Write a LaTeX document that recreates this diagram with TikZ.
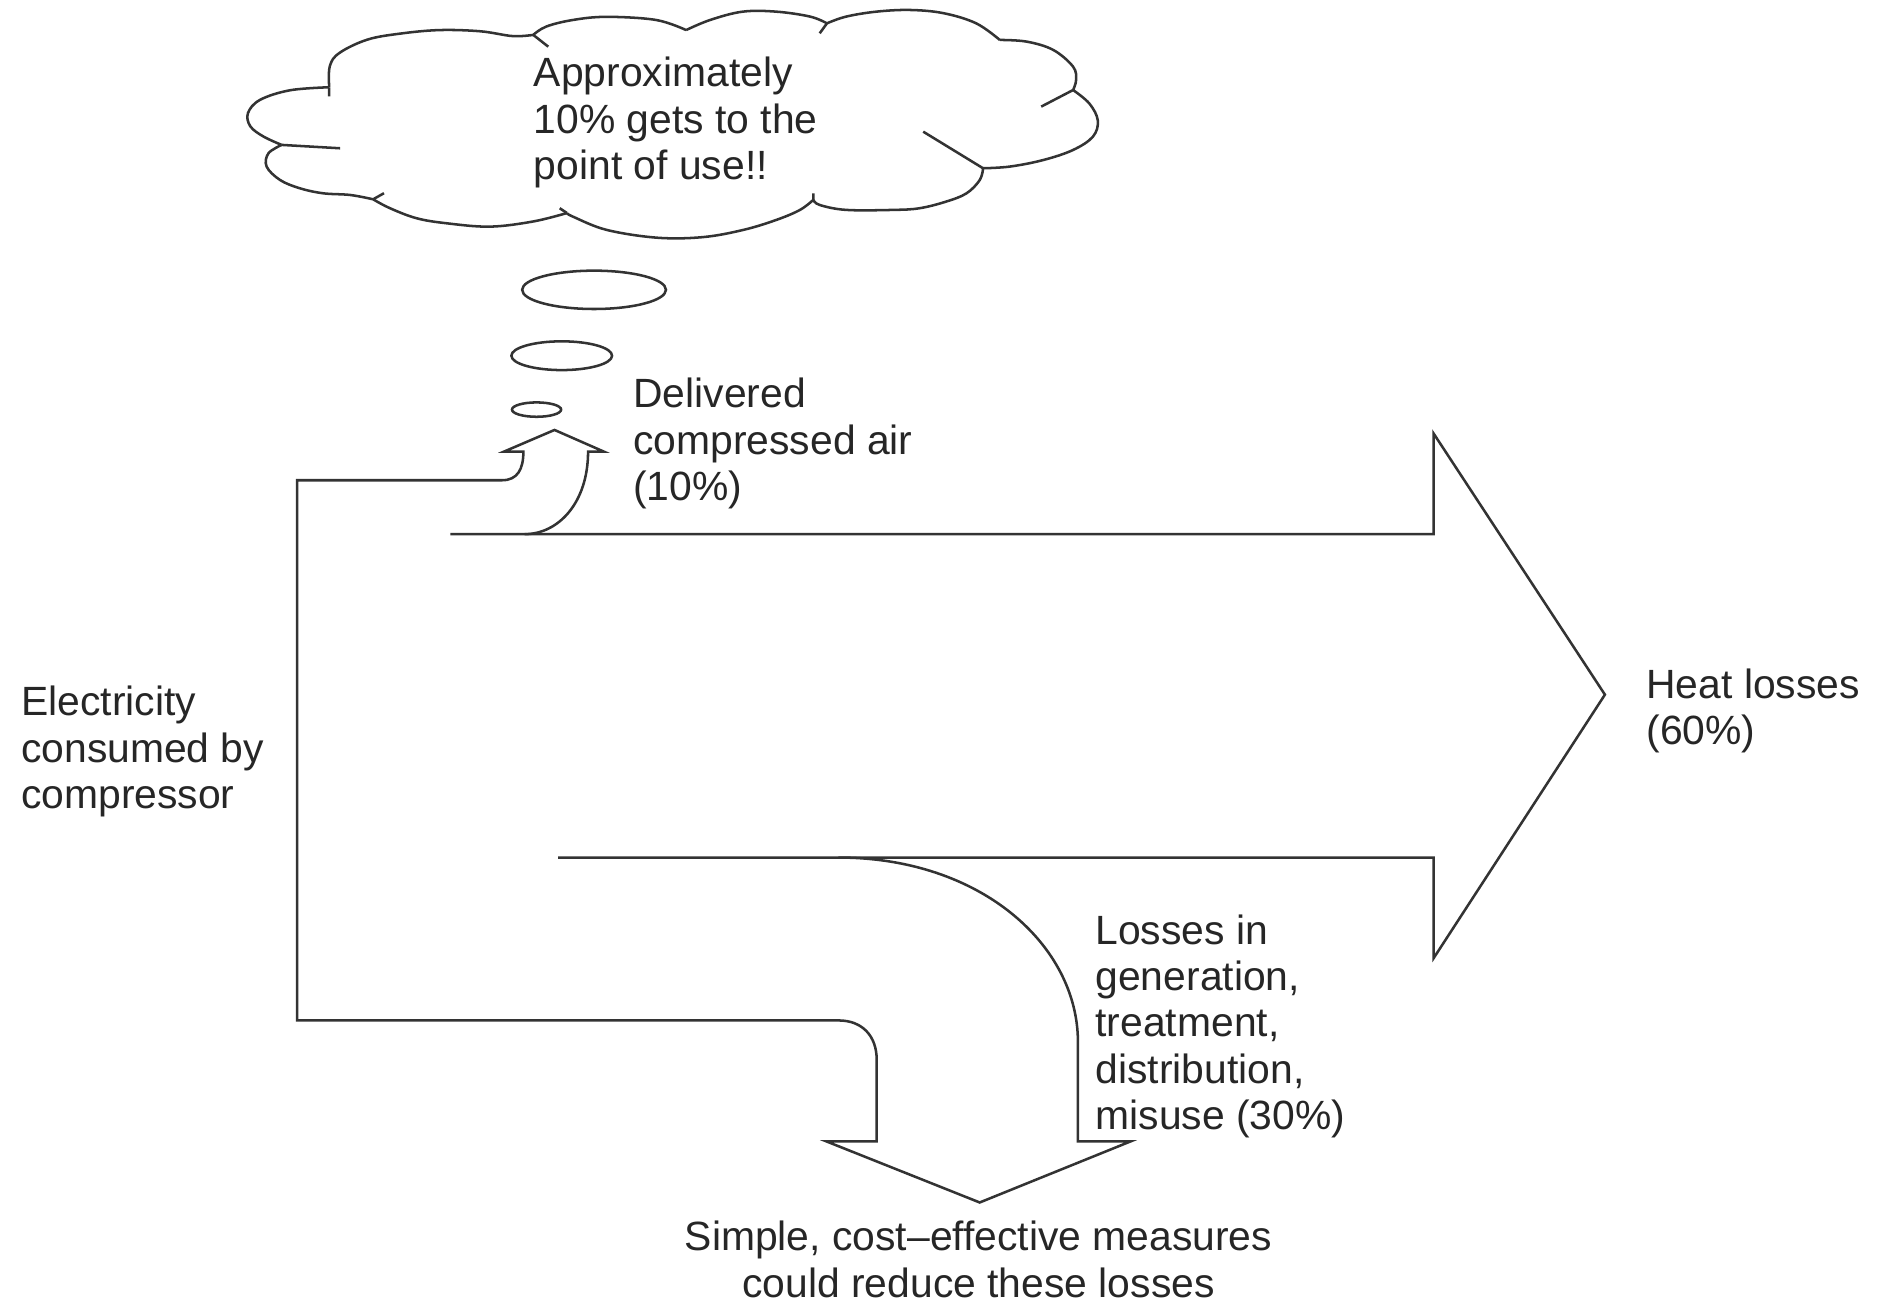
\documentclass[tikz,border=0pt]{standalone}
\usepackage{fontspec}
\setmainfont{Liberation Sans}
\usetikzlibrary{shapes.geometric}

\begin{document}
\begin{tikzpicture}[x=0.01cm, y=-0.01cm]
\tikzstyle{txt}=[align=left, inner sep=0pt, anchor=base west, text=black!85, font=\fontsize{9.7}{11}\selectfont]
\tikzstyle{flow}=[draw=black!80, line width=0.6pt, line join=miter]
\tikzstyle{bubble}=[draw=black!80, line width=0.6pt, ellipse, inner sep=0pt]
\tikzstyle{puff}=[draw=black!80, line width=0.6pt, smooth, tension=0.6]
\useasboundingbox (0,0) rectangle (1568,1086);

% thought cloud
\begin{scope}[scale=1.005]
\draw[puff] plot coordinates {(234,120.4) (219,113.5) (208,105) (206,94) (216,83) (241,75) (273.5,72.5)}
  plot coordinates {(273.5,72.5) (274,55) (282,44) (305,33) (332,28) (365,25) (399,26) (426,30) (443,29)}
  plot coordinates {(443,29) (454,22) (476,16.6) (504,14) (545,16.6) (570,25)}
  plot coordinates {(570,25) (590,16.6) (617,9.7) (645,9.7) (673,13.8) (687,19.4)}
  plot coordinates {(687,19.4) (703,13.8) (728,9.7) (756,8.3) (784,11) (811,19.4) (830.6,33.2)}
  plot coordinates {(830.6,33.2) (853,34.6) (875,41.5) (891.5,55.4) (894,66.4) (891.5,74.8)}
  plot coordinates {(891.5,74.8) (905,86) (912,100) (908,113.5) (891.5,124.6) (866.6,133) (839,138.4) (816.7,139.8)}
  plot coordinates {(816.7,139.8) (814,149.5) (803,160.6) (786,167.5) (764,173) (742,174.4) (703,174.4) (681,170.3) (675.7,166)}
  plot coordinates {(675.7,166) (664.6,174.4) (645,182.7) (617.6,191) (584,197) (546,197.5) (504,191) (476,180) (471,177)}
  plot coordinates {(471,177) (443,184) (407,188.3) (371,185.5) (346,181.3) (324,173) (310,165.6)}
  plot coordinates {(310,165.6) (291,162) (268.5,160.6) (249,156.4) (232.6,149.5) (221.5,138.4) (223,127.4) (234,120.4)};
% inner strokes of the cloud
\draw[flow] (273.5,72.5) -- (273.5,80)
  (234,120.4) -- (282.6,123.2)
  (443,29) -- (455.5,38.8)
  (687,19.4) -- (681,27.7)
  (891.5,74.8) -- (865,88.6)
  (816.7,139.8) -- (767,109.4)
  (675.7,166) -- (675.7,160.6)
  (471,177) -- (465,173)
  (310,165.6) -- (319,160.5);
\end{scope}
\node[txt] (think) at (445,150) {Approximately\\10\% gets to the\\point of use!!};

% bubbles
\node[bubble, minimum width=1.2cm, minimum height=0.32cm] (b1) at (496,242) {};
\node[bubble, minimum width=0.84cm, minimum height=0.24cm] (b2) at (469,297) {};
\node[bubble, minimum width=0.41cm, minimum height=0.12cm] (b3) at (448,342) {};

% main flow
\draw[flow] (376,446) -- (1197,446) -- (1197,362) -- (1340,580) -- (1197,800) -- (1197,716) -- (466,716);
\draw[flow] (438,446) .. controls (466,446) and (491,420) .. (491,377) -- (504,377) -- (463,359)
  -- (421,377) -- (437,377) .. controls (437,392) and (432,401) .. (419,401) -- (248,401)
  -- (248,852) -- (700,852) .. controls (720,852) and (732,865) .. (732,885) -- (732,953)
  -- (690,953) -- (818,1004) -- (944,953) -- (900,953) -- (900,870)
  .. controls (900,790) and (820,716) .. (700,716);

% labels
\node[txt] (deliv) at (528,418) {Delivered\\compressed air\\(10\%)};
\node[txt] (heat) at (1374,622) {Heat losses\\(60\%)};
\node[txt] (elec) at (17,675) {Electricity\\consumed by\\compressor};
\node[txt] (loss) at (914,943) {Losses in\\generation,\\treatment,\\distribution,\\misuse (30\%)};
\node[txt, align=center, anchor=base] (measures) at (817,1083) {Simple, cost–effective measures\\could reduce these losses};

\end{tikzpicture}
\end{document}
